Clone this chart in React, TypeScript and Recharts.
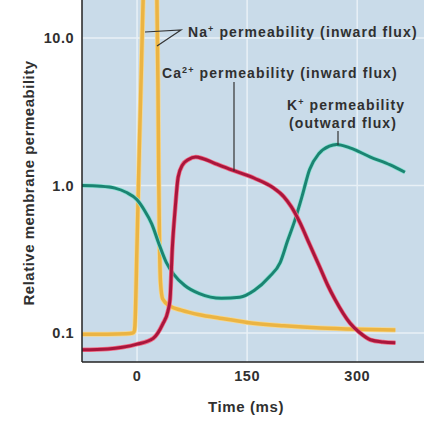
import { CartesianGrid, Line, LineChart, XAxis, YAxis } from "recharts";

// ─── data ─────────────────────────────────────────────────────
const TIME_TICKS = [0, 150, 300];
const PERM_TICKS = [0.1, 1, 10];

const NA_TIME = [-75, -15, -6, -4, -3, 0, 3, 6, 9, 12, 18, 25, 27, 28.5, 29.5, 30.5, 32, 35, 45, 60, 85, 113, 150, 200, 250, 300, 352];
const NA_PERM = [0.098, 0.099, 0.1, 0.102, 0.11, 0.4, 1.7, 6.5, 25, 70, 90, 60, 20, 5, 1.2, 0.45, 0.22, 0.17, 0.152, 0.143, 0.133, 0.126, 0.118, 0.112, 0.108, 0.106, 0.105];

const CA_TIME = [-75, -40, -20, 0, 22, 35, 42, 45, 48, 52, 56, 62, 70, 80, 90, 105, 130, 160, 185, 200, 210, 222, 235, 249, 260, 270, 290, 304, 318, 335, 352];
const CA_PERM = [0.077, 0.078, 0.08, 0.084, 0.092, 0.115, 0.14, 0.17, 0.37, 0.7, 1.14, 1.38, 1.5, 1.56, 1.52, 1.42, 1.27, 1.12, 0.97, 0.84, 0.72, 0.56, 0.4, 0.28, 0.21, 0.168, 0.117, 0.1, 0.09, 0.087, 0.086];

const K_TIME = [-75, -50, -30, -15, 0, 10, 20, 30, 40, 50, 65, 85, 115, 140, 160, 180, 195, 205, 215, 225, 235, 248, 262, 272, 290, 318, 345, 365];
const K_PERM = [1.0, 0.99, 0.96, 0.9, 0.8, 0.68, 0.55, 0.4, 0.3, 0.25, 0.21, 0.185, 0.172, 0.175, 0.195, 0.24, 0.3, 0.42, 0.58, 0.85, 1.28, 1.65, 1.85, 1.9, 1.8, 1.56, 1.38, 1.23];

const toPoints = (time: number[], perm: number[]) =>
  time.map((t, i) => ({ time: t, value: perm[i] }));

const SERIES = [
  { name: "na", data: toPoints(NA_TIME, NA_PERM), core: "#ebb443", halo: "#f6d88f", width: 3.5 },
  { name: "k", data: toPoints(K_TIME, K_PERM), core: "#1b8472", halo: "#8fe3d6", width: 3 },
  { name: "ca", data: toPoints(CA_TIME, CA_PERM), core: "#a9163c", halo: "#f26a84", width: 3 },
];

const FONT = "'Liberation Sans', Arial, sans-serif";
const TEXT = "#303030";

export default function App() {
  return (
    <div style={{ position: "absolute", left: 0, top: 0, width: 444, height: 425, background: "#fff", fontFamily: FONT }}>
      <LineChart width={444} height={425} margin={{ top: 0, right: 20, bottom: 0, left: 0 }}>
        <CartesianGrid
          fill="#c9dbe9"
          stroke="#e8f0f6"
          strokeWidth={1.5}
          horizontalValues={PERM_TICKS}
          verticalValues={TIME_TICKS}
        />
        <XAxis
          type="number"
          dataKey="time"
          domain={[-75, 391]}
          ticks={TIME_TICKS}
          allowDataOverflow
          height={63}
          tickLine={false}
          tickMargin={3}
          stroke="#222"
          strokeWidth={1.5}
          tick={{ fill: TEXT, fontSize: 14.5, fontWeight: 700, fontFamily: FONT, letterSpacing: 0.5 }}
          label={{
            content: () => (
              <text x={246} y={412} textAnchor="middle" fill={TEXT} fontSize={15} fontWeight={700} fontFamily={FONT} letterSpacing={0.6}>
                Time (ms)
              </text>
            ),
          }}
        />
        <YAxis
          type="number"
          scale="log"
          dataKey="value"
          domain={[0.0636, 18.1]}
          ticks={PERM_TICKS}
          allowDataOverflow
          width={82}
          tickLine={false}
          stroke="#222"
          strokeWidth={1.5}
          tickFormatter={(v: number) => v.toFixed(1)}
          tick={{ fill: TEXT, fontSize: 14.5, fontWeight: 700, fontFamily: FONT, letterSpacing: 0.5 }}
          label={{
            content: () => (
              <text
                x={34}
                y={183}
                transform="rotate(-90 34 183)"
                textAnchor="middle"
                fill={TEXT}
                fontSize={15}
                fontWeight={700}
                fontFamily={FONT}
                letterSpacing={0.5}
              >
                Relative membrane permeability
              </text>
            ),
          }}
        />
        {SERIES.flatMap((s) => [
          <Line
            key={s.name + "-halo"}
            data={s.data}
            dataKey="value"
            type="monotone"
            stroke={s.halo}
            strokeWidth={s.width + 1.5}
            dot={false}
            isAnimationActive={false}
          />,
          <Line
            key={s.name}
            data={s.data}
            dataKey="value"
            type="monotone"
            stroke={s.core}
            strokeWidth={s.width}
            dot={false}
            isAnimationActive={false}
          />,
        ])}
      </LineChart>

      {/* annotations */}
      <svg
        width={444}
        height={425}
        style={{ position: "absolute", left: 0, top: 0, pointerEvents: "none" }}
        fontFamily={FONT}
        fontWeight={700}
        fontSize={14}
        letterSpacing={1.1}
        fill={TEXT}
      >
        <g stroke="#333" strokeWidth={1.2} fill="none">
          <polyline points="145,32 181,30 157,46" />
          <line x1={234} y1={82} x2={234} y2={171} />
          <line x1={338} y1={131} x2={338} y2={145} />
        </g>
        <text x={188} y={37}>
          Na<tspan fontSize={9} dy={-5}>+</tspan>
          <tspan dy={5}> permeability (inward flux)</tspan>
        </text>
        <text x={162} y={78}>
          Ca<tspan fontSize={9} dy={-5}>2+</tspan>
          <tspan dy={5}> permeability (inward flux)</tspan>
        </text>
        <text x={287} y={110}>
          K<tspan fontSize={9} dy={-5}>+</tspan>
          <tspan dy={5}> permeability</tspan>
        </text>
        <text x={289} y={128}>(outward flux)</text>
      </svg>
    </div>
  );
}
